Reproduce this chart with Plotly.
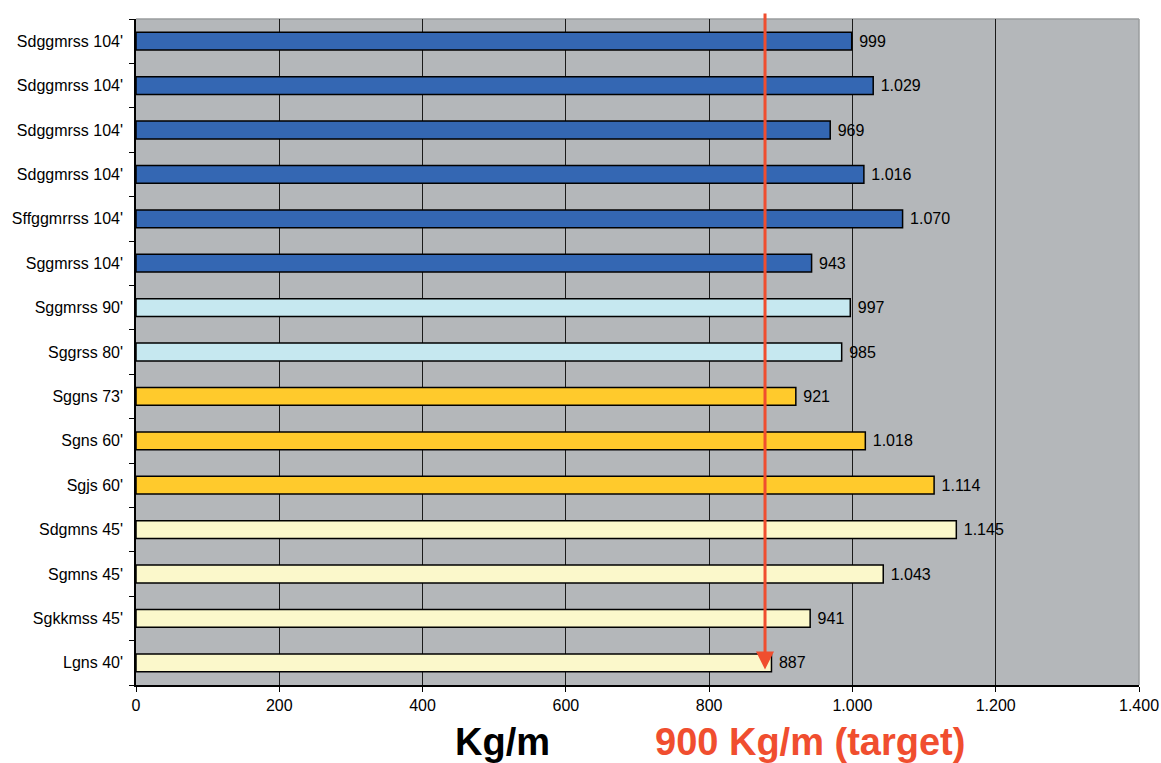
import plotly.graph_objects as go

# Wagon types, top to bottom
wagons = [
    "Sdggmrss 104'", "Sdggmrss 104'", "Sdggmrss 104'", "Sdggmrss 104'",
    "Sffggmrrss 104'", "Sggmrss 104'", "Sggmrss 90'", "Sggrss 80'",
    "Sggns 73'", "Sgns 60'", "Sgjs 60'", "Sdgmns 45'", "Sgmns 45'",
    "Sgkkmss 45'", "Lgns 40'",
]
# Tare weight per metre (kg/m)
kg_per_m = [999, 1029, 969, 1016, 1070, 943, 997, 985, 921, 1018, 1114, 1145, 1043, 941, 887]
# Colour group per wagon
groups = ["104"] * 6 + ["80-90"] * 2 + ["60-73"] * 3 + ["40-45"] * 4
group_colors = {"104": "#3467b3", "80-90": "#c6e8f0", "60-73": "#ffca2c", "40-45": "#fbf8cb"}

x_ticks = [0, 200, 400, 600, 800, 1000, 1200, 1400]
arrow_x = 878  # position of the target marker line as drawn

FONT = "Liberation Sans, Arial, sans-serif"
RED = "#f04e2f"

rows = list(range(len(wagons)))

fig = go.Figure()
fig.add_trace(go.Bar(
    x=kg_per_m,
    y=rows,
    orientation="h",
    width=0.4,
    marker=dict(color=[group_colors[g] for g in groups], line=dict(color="black", width=1.5)),
    text=kg_per_m,
    texttemplate=" %{x:,}",
    textposition="outside",
    textfont=dict(family=FONT, size=16, color="black"),
    cliponaxis=False,
    showlegend=False,
))

# Target arrow
fig.add_annotation(
    x=arrow_x, y=14.15, xref="x", yref="y",
    ax=arrow_x, ay=-0.66, axref="x", ayref="y",
    showarrow=True, arrowhead=2, arrowsize=1.2, arrowwidth=3, arrowcolor=RED,
    text="",
)

fig.add_annotation(
    text="<b>Kg/m</b>", x=0.365, y=-0.086, xref="paper", yref="paper",
    xanchor="center", yanchor="middle", showarrow=False,
    font=dict(family=FONT, size=38, color="black"),
)
fig.add_annotation(
    text="<b>900 Kg/m (target)</b>", x=0.672, y=-0.086, xref="paper", yref="paper",
    xanchor="center", yanchor="middle", showarrow=False,
    font=dict(family=FONT, size=38, color=RED),
)

# Light frame on top and right of the plot area
fig.add_shape(type="line", xref="paper", yref="paper", x0=0, x1=1, y0=1, y1=1,
              line=dict(color="#9a9c9e", width=1.5), layer="below")
fig.add_shape(type="line", xref="paper", yref="paper", x0=1, x1=1, y0=0, y1=1,
              line=dict(color="#9a9c9e", width=1.5), layer="below")

fig.update_layout(
    width=1161, height=763,
    margin=dict(l=136, r=22, t=19, b=78),
    paper_bgcolor="white",
    plot_bgcolor="#b4b7ba",
    separators=",.",
    font=dict(family=FONT, size=16, color="black"),
    bargap=0.6,
)
fig.update_xaxes(
    range=[0, 1400], tickvals=x_ticks, tickformat=",",
    showgrid=True, gridcolor="#1a1a1a", gridwidth=1,
    showline=True, linecolor="black", linewidth=1.5,
    ticks="outside", ticklen=5, tickcolor="black",
    tickfont=dict(family=FONT, size=16, color="black"),
    zeroline=False, automargin=False,
)
fig.update_yaxes(
    range=[len(wagons) - 0.5, -0.5],
    tickvals=rows, ticktext=wagons, ticks="",
    minor=dict(tickvals=[i - 0.5 for i in range(len(wagons) + 1)], ticks="outside",
               ticklen=5, tickcolor="black", showgrid=False),
    showgrid=False, showline=True, linecolor="black", linewidth=1.5,
    tickfont=dict(family=FONT, size=16, color="black"),
    ticklabelstandoff=8,
    zeroline=False, automargin=False,
)

fig.write_html("out.html")
